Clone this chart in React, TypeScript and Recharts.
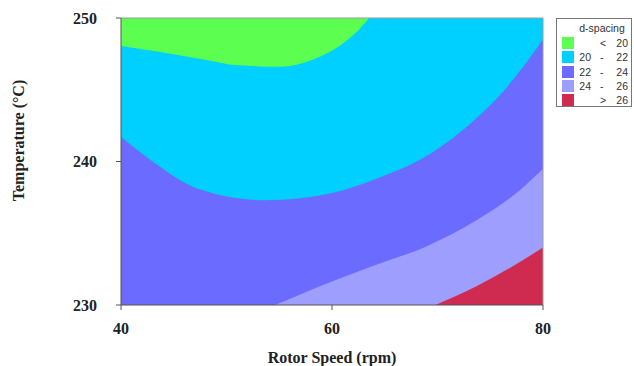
import { Area, ComposedChart, ReferenceLine, XAxis, YAxis } from "recharts"

const rpmTicks = [40, 60, 80]
const tempTicks = [230, 240, 250]
const TOP = 250

// lower edge (°C) of each d-spacing band along rotor speed;
// points past 230/250 just carry the curve beyond the frame and are clipped
const edgeAbove26 = [
  { rpm: 40, temp: 230 },
  { rpm: 80, temp: 230 },
]
const edge24to26 = [
  { rpm: 40, temp: 222 },
  { rpm: 55, temp: 226 },
  { rpm: 60, temp: 227.3 },
  { rpm: 65, temp: 228.5 },
  { rpm: 69.8, temp: 230 },
  { rpm: 73.7, temp: 231.3 },
  { rpm: 76.9, temp: 232.6 },
  { rpm: 80, temp: 234.0 },
]
const edge22to24 = [
  { rpm: 40, temp: 226 },
  { rpm: 45, temp: 227.4 },
  { rpm: 50, temp: 228.7 },
  { rpm: 54.6, temp: 230 },
  { rpm: 59.5, temp: 231.5 },
  { rpm: 64.2, temp: 232.8 },
  { rpm: 69, temp: 234.1 },
  { rpm: 73.7, temp: 235.9 },
  { rpm: 77.8, temp: 238.0 },
  { rpm: 80, temp: 239.5 },
]
const edge20to22 = [
  { rpm: 40, temp: 241.7 },
  { rpm: 43, temp: 240.0 },
  { rpm: 47.3, temp: 238.1 },
  { rpm: 53.6, temp: 237.3 },
  { rpm: 60, temp: 237.8 },
  { rpm: 64.2, temp: 238.8 },
  { rpm: 68.3, temp: 240.1 },
  { rpm: 72.4, temp: 242.2 },
  { rpm: 76.6, temp: 245.2 },
  { rpm: 80, temp: 248.5 },
]
const edgeBelow20 = [
  { rpm: 40, temp: 248.05 },
  { rpm: 44, temp: 247.6 },
  { rpm: 48.1, temp: 247.07 },
  { rpm: 51, temp: 246.7 },
  { rpm: 55.1, temp: 246.6 },
  { rpm: 58.2, temp: 247.1 },
  { rpm: 61, temp: 248.2 },
  { rpm: 63.4, temp: 249.9 },
  { rpm: 65, temp: 251.6 },
]

const bandLabels = [
  { lo: "", sep: "<", hi: "20" },
  { lo: "20", sep: "-", hi: "22" },
  { lo: "22", sep: "-", hi: "24" },
  { lo: "24", sep: "-", hi: "26" },
  { lo: "", sep: ">", hi: "26" },
]
const bandColors = ["#5cff50", "#00d0ff", "#6b6bff", "#9e9eff", "#cf2a4f"]

const toBand = (edge: { rpm: number; temp: number }[]) =>
  edge.map((p) => ({ rpm: p.rpm, band: [p.temp, TOP] }))

// painted bottom-up so each band covers the ones under it
const layers = [
  { data: toBand(edgeAbove26), color: bandColors[4] },
  { data: toBand(edge24to26), color: bandColors[3] },
  { data: toBand(edge22to24), color: bandColors[2] },
  { data: toBand(edge20to22), color: bandColors[1] },
  { data: toBand(edgeBelow20), color: bandColors[0] },
]

const serif = "'Liberation Serif', 'Times New Roman', serif"
const textStyle = { fontFamily: serif, fontWeight: 700, fontSize: 16, fill: "#222" }

const YTitle = (props: any) => {
  const vb = props.viewBox
  const cx = 18
  const cy = vb.y + vb.height / 2 - 21
  return (
    <text
      x={cx}
      y={cy}
      transform={`rotate(-90, ${cx}, ${cy})`}
      textAnchor="middle"
      dominantBaseline="central"
      style={textStyle}
    >
      Temperature (°C)
    </text>
  )
}

function DSpacingLegend() {
  return (
    <div
      style={{
        position: "absolute",
        left: 556,
        top: 18,
        width: 76,
        height: 89,
        border: "1px solid #777",
        boxSizing: "border-box",
        background: "#fff",
        fontFamily: "'Liberation Sans', Arial, sans-serif",
        fontSize: 10.5,
        color: "#333",
      }}
    >
      <div style={{ position: "absolute", left: 0, width: 90, top: 3, textAlign: "center" }}>d-spacing</div>
      {bandLabels.map((b, i) => (
        <div key={i} style={{ position: "absolute", top: 18 + i * 14.3, left: 0, width: 76, height: 12 }}>
          <div
            style={{ position: "absolute", left: 5, top: 0, width: 12, height: 12, background: bandColors[i] }}
          />
          <span style={{ position: "absolute", right: 42, top: -1, lineHeight: "14px" }}>{b.lo}</span>
          <span style={{ position: "absolute", left: 43, top: -1, lineHeight: "14px" }}>{b.sep}</span>
          <span style={{ position: "absolute", right: 5, top: -1, lineHeight: "14px" }}>{b.hi}</span>
        </div>
      ))}
    </div>
  )
}

export default function App() {
  return (
    <div style={{ position: "absolute", left: 0, top: 0, width: 634, height: 366, background: "#fff" }}>
      <ComposedChart width={634} height={366} margin={{ top: 18, right: 91, bottom: 0, left: 0 }}>
        <XAxis
          type="number"
          dataKey="rpm"
          domain={[40, 80]}
          ticks={rpmTicks}
          allowDataOverflow
          height={61}
          tickSize={5}
          tickMargin={13}
          stroke="#555"
          tick={textStyle}
          label={{
            value: "Rotor Speed (rpm)",
            position: "insideBottom",
            offset: 3,
            style: textStyle,
          }}
        />
        <YAxis
          type="number"
          domain={[230, 250]}
          ticks={tempTicks}
          allowDataOverflow
          width={121}
          tickSize={5}
          tickMargin={19}
          stroke="#555"
          tick={textStyle}
          label={<YTitle />}
        />
        {layers.map((l, i) => (
          <Area
            key={i}
            data={l.data}
            dataKey="band"
            type="monotone"
            stroke="none"
            fill={l.color}
            fillOpacity={1}
            dot={false}
            activeDot={false}
            isAnimationActive={false}
          />
        ))}
        <ReferenceLine y={250} stroke="#999" />
        <ReferenceLine x={80} stroke="#999" />
      </ComposedChart>
      <DSpacingLegend />
    </div>
  )
}
